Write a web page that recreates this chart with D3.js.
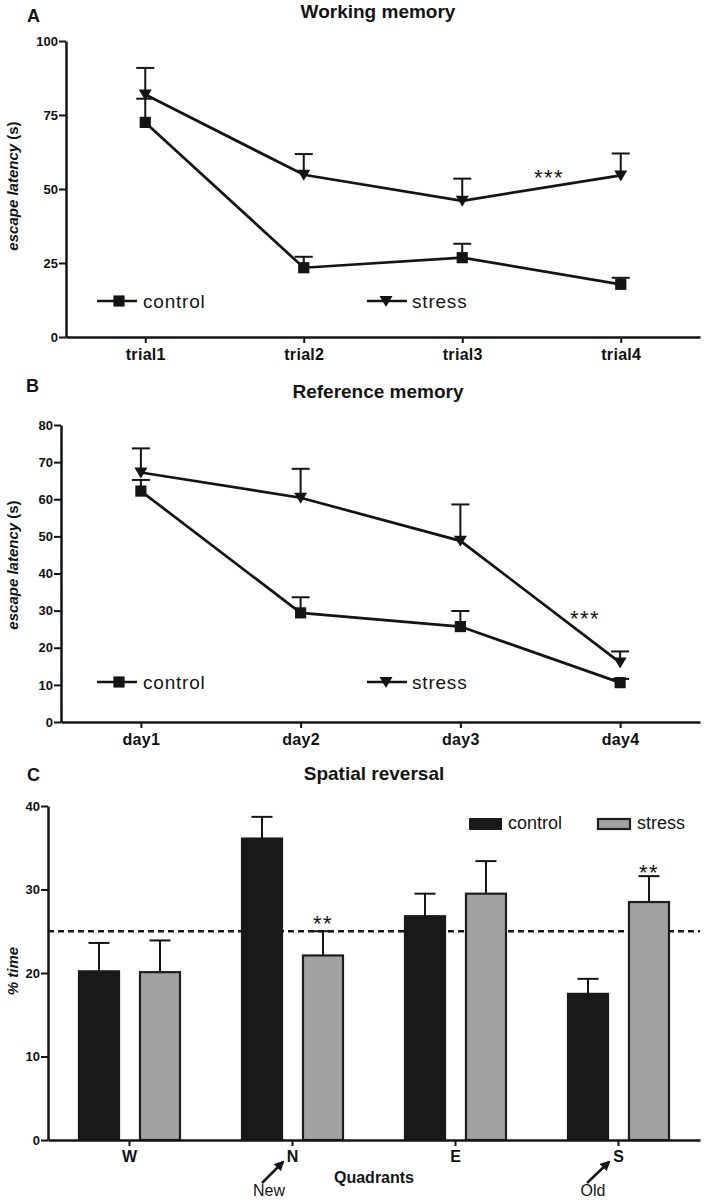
<!DOCTYPE html>
<html>
<head>
<meta charset="utf-8">
<script src="https://cdn.jsdelivr.net/npm/d3@7"></script>
<style>
  body { margin: 0; background: #fff; }
  svg { display: block; font-family: "Liberation Sans", Arial, Helvetica, sans-serif; }
  .tick text { font-weight: bold; fill: #111; }
</style>
</head>
<body>
<svg id="chart" width="704" height="1200"></svg>
<script>
// ---------- DATA ----------
const trials = ["trial1", "trial2", "trial3", "trial4"];
const wmControl = [72.5, 23.4, 26.8, 17.8];
const wmControlErr = [8.0, 3.7, 4.7, 2.2];
const wmStress = [81.9, 54.8, 46.0, 54.6];
const wmStressErr = [9.0, 7.0, 7.5, 7.4];
const wmTicks = [0, 25, 50, 75, 100];

const days = ["day1", "day2", "day3", "day4"];
const refControl = [62.2, 29.4, 25.7, 10.6];
const refControlErr = [3.0, 4.2, 4.2, 1.0];
const refStress = [67.2, 60.4, 48.8, 16.0];
const refStressErr = [6.5, 7.8, 9.8, 3.0];
const refTicks = [0, 10, 20, 30, 40, 50, 60, 70, 80];

const quadrants = ["W", "N", "E", "S"];
const groups = ["control", "stress"];
const srControl = [20.2, 36.1, 26.8, 17.5];
const srControlErr = [3.4, 2.6, 2.7, 1.8];
const srStress = [20.1, 22.1, 29.5, 28.5];
const srStressErr = [3.8, 2.9, 3.9, 3.1];
const srTicks = [0, 10, 20, 30, 40];
const chanceLevel = 25;

const svg = d3.select("#chart");
const INK = "#141414";

function styleAxis(g, fontSize) {
  g.select(".domain").attr("stroke", INK).attr("stroke-width", 2.5);
  g.selectAll(".tick line").attr("stroke", INK).attr("stroke-width", 2);
  g.selectAll(".tick text").style("font-size", fontSize + "px");
}

function rotLabel(x, y, parts) {
  const t = svg.append("text")
    .attr("transform", `translate(${x},${y}) rotate(-90)`)
    .attr("text-anchor", "middle")
    .style("font-size", "15px").style("font-weight", "bold").attr("fill", INK);
  parts.forEach(p => t.append("tspan").text(p.t).style("font-style", p.i ? "italic" : "normal"));
}

function text(x, y, s, size, weight, anchor, extra) {
  const t = svg.append("text").attr("x", x).attr("y", y).text(s)
    .style("font-size", size + "px").style("font-weight", weight || "normal")
    .attr("text-anchor", anchor || "middle").attr("fill", INK);
  if (extra) extra(t);
  return t;
}

function linePanel(cfg) {
  const x = d3.scalePoint().domain(cfg.cats).range([cfg.left, 700]).padding(0.5);
  const y = d3.scaleLinear().domain([0, cfg.max]).range([cfg.bottom, cfg.top]);

  svg.append("g").attr("transform", `translate(${cfg.left},0)`)
    .call(d3.axisLeft(y).tickValues(cfg.ticks).tickSize(7).tickSizeOuter(0).tickPadding(1))
    .call(g => styleAxis(g, 13));
  svg.append("g").attr("transform", `translate(0,${cfg.bottom})`)
    .call(d3.axisBottom(x).tickSize(6).tickSizeOuter(0).tickPadding(5))
    .call(g => styleAxis(g, 16))
    .call(g => g.selectAll(".tick text").attr("dy", "0.78em").style("letter-spacing", "0.3px"));

  const series = [
    { vals: cfg.control, err: cfg.controlErr, sym: "square" },
    { vals: cfg.stress, err: cfg.stressErr, sym: "tri" }
  ];
  const line = d3.line().x((d, i) => x(cfg.cats[i])).y(d => y(d));
  const symSquare = d3.symbol().type(d3.symbolSquare).size(125);
  const triPath = "M-6.5,-5L6.5,-5L0,6Z";

  series.forEach(s => {
    const eg = svg.append("g");
    s.vals.forEach((v, i) => {
      const cx = x(cfg.cats[i]);
      eg.append("line").attr("x1", cx).attr("x2", cx).attr("y1", y(v)).attr("y2", y(v + s.err[i]))
        .attr("stroke", INK).attr("stroke-width", 2);
      eg.append("line").attr("x1", cx - 9).attr("x2", cx + 9).attr("y1", y(v + s.err[i])).attr("y2", y(v + s.err[i]))
        .attr("stroke", INK).attr("stroke-width", 2);
    });
  });
  series.forEach(s => {
    svg.append("path").datum(s.vals).attr("d", line).attr("fill", "none")
      .attr("stroke", INK).attr("stroke-width", 2.7);
    s.vals.forEach((v, i) => {
      const cx = x(cfg.cats[i]);
      svg.append("path").attr("transform", `translate(${cx},${y(v)})`)
        .attr("d", s.sym === "square" ? symSquare() : triPath).attr("fill", INK);
    });
  });

  const ly = cfg.legendY;
  [[97, 137, 119, 143, "control", "square"], [367, 407, 386, 412, "stress", "tri"]].forEach(l => {
    svg.append("line").attr("x1", l[0]).attr("x2", l[1]).attr("y1", ly).attr("y2", ly)
      .attr("stroke", INK).attr("stroke-width", 2.7);
    svg.append("path").attr("transform", `translate(${l[2]},${ly})`)
      .attr("d", l[5] === "square" ? symSquare() : triPath).attr("fill", INK);
    text(l[3], ly + 6.5, l[4], 19, "normal", "start", t => t.style("letter-spacing", "0.8px"));
  });

  text(cfg.starX, cfg.starY, "***", 22, "normal", "middle", t => t.style("letter-spacing", "1.5px"));
  text(cfg.letterX, cfg.letterY, cfg.letter, 18, "bold", "start");
  text(378, cfg.titleY, cfg.title, 19, "bold", "middle");
  rotLabel(cfg.ylabX, cfg.ylabY, [{ t: "escape latency  ", i: true }, { t: "(s)", i: false }]);
}

linePanel({
  cats: trials, control: wmControl, controlErr: wmControlErr, stress: wmStress, stressErr: wmStressErr,
  ticks: wmTicks, max: 100, left: 66, top: 41, bottom: 337, legendY: 301,
  starX: 549, starY: 185, letter: "A", letterX: 27, letterY: 22, title: "Working memory", titleY: 18,
  ylabX: 18, ylabY: 186
});

linePanel({
  cats: days, control: refControl, controlErr: refControlErr, stress: refStress, stressErr: refStressErr,
  ticks: refTicks, max: 80, left: 61, top: 425, bottom: 722, legendY: 682,
  starX: 585, starY: 626, letter: "B", letterX: 26, letterY: 392, title: "Reference memory", titleY: 398,
  ylabX: 18, ylabY: 565
});

// ---------- Panel C ----------
(function () {
  const left = 48, top = 806, bottom = 1140;
  const x0 = d3.scaleBand().domain(quadrants).range([left, 700]);
  const x1 = d3.scaleBand().domain(groups).range([-51.5, 51.5]).paddingInner(0.311);
  const y = d3.scaleLinear().domain([0, 40]).range([bottom, top]);

  svg.append("line").attr("x1", left).attr("x2", 700).attr("y1", y(chanceLevel)).attr("y2", y(chanceLevel))
    .attr("stroke", INK).attr("stroke-width", 2.5).attr("stroke-dasharray", "6,4");

  const data = [
    { g: "control", vals: srControl, err: srControlErr, fill: "#191919", stroke: "#191919" },
    { g: "stress", vals: srStress, err: srStressErr, fill: "#a2a2a2", stroke: "#1e1e1e" }
  ];
  data.forEach(s => {
    s.vals.forEach((v, i) => {
      const cx = x0(quadrants[i]) + x0.bandwidth() / 2;
      const bx = cx + x1(s.g);
      const mid = bx + x1.bandwidth() / 2;
      svg.append("line").attr("x1", mid).attr("x2", mid).attr("y1", y(v)).attr("y2", y(v + s.err[i]))
        .attr("stroke", INK).attr("stroke-width", 2);
      svg.append("line").attr("x1", mid - 10.5).attr("x2", mid + 10.5).attr("y1", y(v + s.err[i])).attr("y2", y(v + s.err[i]))
        .attr("stroke", INK).attr("stroke-width", 2);
      svg.append("rect").attr("x", bx + 1).attr("width", x1.bandwidth() - 2)
        .attr("y", y(v)).attr("height", y(0) - y(v))
        .attr("fill", s.fill).attr("stroke", s.stroke).attr("stroke-width", 2.2);
    });
  });

  svg.append("g").attr("transform", `translate(${left},0)`)
    .call(d3.axisLeft(y).tickValues(srTicks).tickSize(7).tickSizeOuter(0).tickPadding(1))
    .call(g => styleAxis(g, 13));
  svg.append("g").attr("transform", `translate(0,${bottom})`)
    .call(d3.axisBottom(x0).tickSize(6).tickSizeOuter(0).tickPadding(4))
    .call(g => styleAxis(g, 16))
    .call(g => g.selectAll(".tick text").attr("dy", "0.78em"));

  svg.append("rect").attr("x", 469).attr("y", 818).attr("width", 33).attr("height", 12).attr("fill", "#191919");
  text(508, 829, "control", 18, "normal", "start");
  svg.append("rect").attr("x", 598).attr("y", 819).attr("width", 32).attr("height", 10)
    .attr("fill", "#a2a2a2").attr("stroke", "#1e1e1e").attr("stroke-width", 2.2);
  text(637, 829, "stress", 18, "normal", "start");

  text(323, 931, "**", 22, "normal", "middle", t => t.style("letter-spacing", "1.5px"));
  text(649, 880, "**", 22, "normal", "middle", t => t.style("letter-spacing", "1.5px"));

  text(27, 781, "C", 18, "bold", "start");
  text(374, 780, "Spatial reversal", 19, "bold", "middle");
  text(374, 1183, "Quadrants", 16, "bold", "middle");
  rotLabel(18, 971, [{ t: "% time", i: true }]);

  const defs = svg.append("defs");
  defs.append("marker").attr("id", "ah").attr("viewBox", "0 0 10 10").attr("refX", 8).attr("refY", 5)
    .attr("markerWidth", 4).attr("markerHeight", 4).attr("orient", "auto")
    .append("path").attr("d", "M0,0L10,5L0,10Z").attr("fill", INK);
  [[262, 1183, 283, 1162], [587, 1183, 609, 1162]].forEach(a => {
    svg.append("line").attr("x1", a[0]).attr("y1", a[1]).attr("x2", a[2]).attr("y2", a[3])
      .attr("stroke", INK).attr("stroke-width", 2.5).attr("marker-end", "url(#ah)");
  });
  text(269, 1196, "New", 16, "normal", "middle");
  text(593, 1196, "Old", 16, "normal", "middle");
})();
</script>
</body>
</html>
